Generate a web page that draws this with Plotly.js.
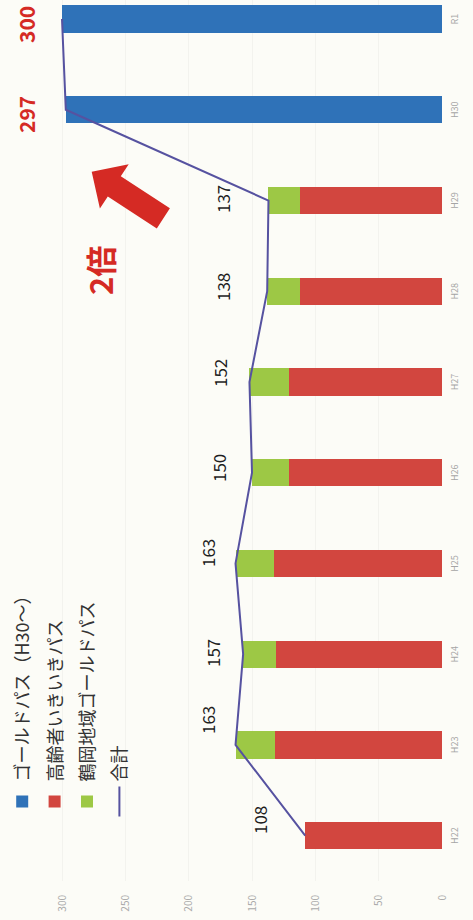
<!DOCTYPE html>
<html>
<head>
<meta charset="utf-8">
<script src="https://cdn.plot.ly/plotly-3.0.1.min.js"></script>
<style>
  html, body { margin:0; padding:0; width:473px; height:920px; overflow:hidden; background:#fcfcf7; }
  #chart { position:absolute; left:0; top:0; width:920px; height:473px;
           transform-origin:0 0; transform:translate(0px,920px) rotate(-90deg); }
</style>
</head>
<body>
<div id="chart"></div>
<script>
// ---- data ----
const categories   = ['H22','H23','H24','H25','H26','H27','H28','H29','H30','R1'];
const goldPass     = [null, null, null, null, null, null, null, null, 297, 300];
const koreiPass    = [108, 132, 131, 133, 121, 121, 112, 112, null, null];
const tsuruokaGold = [null, 31, 26, 30, 29, 31, 26, 25, null, null];
const totals       = [108, 163, 157, 163, 150, 152, 138, 137, 297, 300];
const seriesNames  = ['ゴールドパス（H30～）', '高齢者いきいきパス', '鶴岡地域ゴールドパス', '合計'];
const valueTicks   = [0, 50, 100, 150, 200, 250, 300];
const emphasisText = '2倍';

// ---- layout geometry (original, unrotated 920x473) ----
const W = 920, H = 473;
const M = { l: 39, r: 0, t: 24, b: 31 };
const plotW = W - M.l - M.r, plotH = H - M.t - M.b;
const px = ox => (ox - M.l) / plotW;
const py = oy => (H - M.b - oy) / plotH;

const FONT = '"Noto Sans CJK JP", "Noto Sans", sans-serif';
const BLUE = '#2f72b8', RED = '#d2463f', GREEN = '#9dc845', LINE = '#5652a0', ACCENT = '#d52a24';

const traces = [
  { type:'bar', name:seriesNames[0], x:categories, y:goldPass, marker:{color:BLUE}, legendgroup:'a', hoverinfo:'skip' },
  { type:'bar', name:seriesNames[1], x:categories, y:koreiPass, marker:{color:RED}, legendgroup:'b', hoverinfo:'skip' },
  { type:'bar', name:seriesNames[2], x:categories, y:tsuruokaGold, marker:{color:GREEN}, legendgroup:'c', hoverinfo:'skip' },
  { type:'scatter', mode:'lines', name:seriesNames[3], x:categories, y:totals,
    line:{color:LINE, width:2}, legendgroup:'d', hoverinfo:'skip' }
];

// label offsets (pixels, original orientation)
const labelShift = [[16,46],[25,28],[1,31],[10,28],[5,34],[9,30],[4,45],[2,46],[-5,40],[-5,36]];
const annotations = totals.map((v, i) => {
  const big = i >= 8;
  return {
    x: categories[i], y: v, xref:'x', yref:'y', showarrow:false,
    xanchor:'center', yanchor:'middle',
    xshift: labelShift[i][0], yshift: labelShift[i][1],
    text: big ? '<b>' + v + '</b>' : String(v),
    font: { family: FONT, size: big ? 21 : 17, color: big ? ACCENT : '#1e1e1e' }
  };
});
annotations.push({
  xref:'paper', yref:'paper', x: px(649), y: py(99), xanchor:'center', yanchor:'middle', showarrow:false,
  text:'<b>' + emphasisText + '</b>', font:{ family: FONT, size: 31, color: ACCENT }
});

// block arrow (pixel geometry converted to paper)
const arrowPts = [[748.3,91.7],[755.8,128.7],[743.7,120.8],[711.8,169.9],[691.6,156.8],[723.5,107.8],[711.4,99.9]];
const arrowPath = 'M' + arrowPts.map(p => px(p[0]).toFixed(5) + ',' + py(p[1]).toFixed(5)).join(' L') + ' Z';

const layout = {
  width: W, height: H,
  margin: M,
  paper_bgcolor:'#fcfcf7', plot_bgcolor:'#fcfcf7',
  barmode:'stack', bargap: 0.70,
  showlegend:true,
  legend:{ x: px(98.5), y: py(4), xanchor:'left', yanchor:'top', bgcolor:'rgba(0,0,0,0)',
           traceorder:'grouped', tracegroupgap: 6,
           font:{ family: FONT, size: 18, color:'#333' } },
  font:{ family: FONT },
  xaxis:{ type:'category', range:[-0.5, 9.21], showgrid:false, zeroline:false, showline:false,
          ticks:'', ticklabelstandoff: 6, tickfont:{ family: FONT, size: 9, color:'#a5a5a5' }, fixedrange:true },
  yaxis:{ range:[0, 330], tickvals: valueTicks, ticktext: valueTicks.map(String),
          showgrid:true, gridcolor:'#f3f3ee', gridwidth:1, zeroline:false, showline:false,
          ticks:'', ticklabelstandoff: 13, tickfont:{ family: FONT, size: 10, color:'#aaaaaa' }, fixedrange:true },
  annotations: annotations,
  shapes:[{ type:'path', xref:'paper', yref:'paper', path: arrowPath,
            fillcolor: ACCENT, line:{ width:0 }, layer:'above' }]
};

Plotly.newPlot('chart', traces, layout, { staticPlot:true, displayModeBar:false });
</script>
</body>
</html>
